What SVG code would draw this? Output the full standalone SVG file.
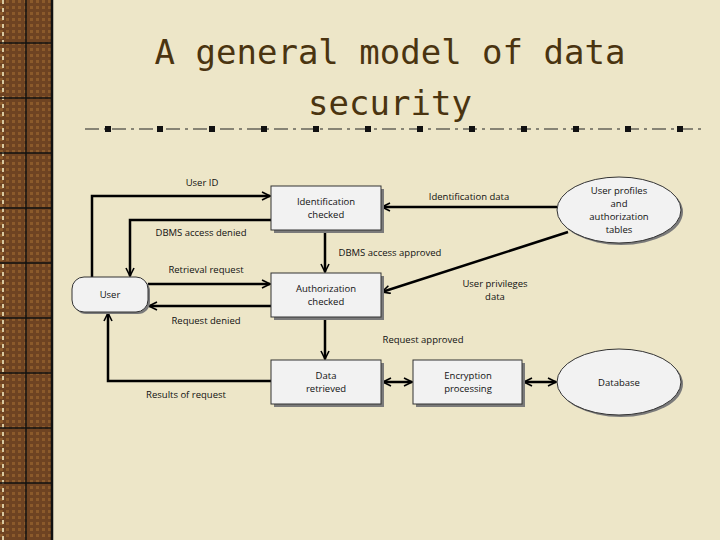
<svg xmlns="http://www.w3.org/2000/svg" width="720" height="540" viewBox="0 0 720 540">
<defs>
<marker id="ah" viewBox="0 0 10 10" refX="9" refY="5" markerWidth="4" markerHeight="4" orient="auto-start-reverse" markerUnits="strokeWidth">
<path d="M1,1 L9,5 L1,9" fill="none" stroke="#000" stroke-width="1.6"/>
</marker>
<pattern id="strip" width="6" height="6" patternUnits="userSpaceOnUse">
<rect width="6" height="6" fill="#6e4322"/>
<rect x="0" y="0" width="3" height="3" fill="#8b5a2b"/>
</pattern>
</defs>
<style>
.bg{fill:#ede6c8}
.box{fill:#f2f2f2;stroke:#333;stroke-width:1}
.sh{fill:#7a7a7a}
.t{font-family:"Open Sans","Lato",sans-serif;font-size:9.5px;fill:#111;text-anchor:middle}
.c{fill:none;stroke:#000;stroke-width:2.5;marker-end:url(#ah)}
.title{font-family:"DejaVu Sans Mono",monospace;font-size:34px;fill:#4a3410;text-anchor:middle}
</style>
<rect class="bg" width="720" height="540"/>
<rect x="0" y="0" width="53" height="540" fill="url(#strip)"/>
<g stroke="#111" stroke-width="1.5" fill="none">
<line x1="52" y1="0" x2="52" y2="540" stroke-width="2.5"/>
<line x1="26" y1="0" x2="26" y2="540"/>
<line x1="3" y1="0" x2="3" y2="540" stroke="#d8c9a0" stroke-dasharray="4,4" stroke-width="2"/>
<line x1="0" y1="43" x2="52" y2="43"/><line x1="0" y1="98" x2="52" y2="98"/>
<line x1="0" y1="153" x2="52" y2="153"/><line x1="0" y1="208" x2="52" y2="208"/>
<line x1="0" y1="263" x2="52" y2="263"/><line x1="0" y1="318" x2="52" y2="318"/>
<line x1="0" y1="373" x2="52" y2="373"/><line x1="0" y1="428" x2="52" y2="428"/>
<line x1="0" y1="483" x2="52" y2="483"/>
</g>
<text class="title" x="390" y="64">A general model of data</text>
<text class="title" x="390" y="115">security</text>
<g>
<line x1="85" y1="129" x2="705" y2="129" stroke="#222" stroke-width="1.2" stroke-dasharray="14,5,3,5"/>
<g fill="#111">
<rect x="105" y="126" width="6" height="6"/><rect x="157" y="126" width="6" height="6"/><rect x="209" y="126" width="6" height="6"/><rect x="261" y="126" width="6" height="6"/><rect x="313" y="126" width="6" height="6"/><rect x="365" y="126" width="6" height="6"/><rect x="417" y="126" width="6" height="6"/><rect x="469" y="126" width="6" height="6"/><rect x="521" y="126" width="6" height="6"/><rect x="573" y="126" width="6" height="6"/><rect x="625" y="126" width="6" height="6"/><rect x="677" y="126" width="6" height="6"/>
</g>
</g>
<g id="connectors">
<polyline class="c" points="92,277 92,196 270,196"/>
<text class="t" x="202" y="186">User ID</text>
<polyline class="c" points="271,220 130,220 130,276"/>
<text class="t" x="201" y="236">DBMS access denied</text>
<line class="c" x1="325" y1="230" x2="325" y2="272"/>
<text class="t" x="390" y="256">DBMS access approved</text>
<line class="c" x1="148" y1="284" x2="270" y2="284"/>
<text class="t" x="206" y="273">Retrieval request</text>
<line class="c" x1="271" y1="306" x2="149" y2="306"/>
<text class="t" x="206" y="324">Request denied</text>
<line class="c" x1="557" y1="207" x2="382" y2="207"/>
<text class="t" x="469" y="200">Identification data</text>
<line class="c" x1="568" y1="232" x2="382" y2="292"/>
<text class="t" x="495" y="287">User privileges</text>
<text class="t" x="495" y="300">data</text>
<line class="c" x1="325" y1="317" x2="325" y2="359"/>
<text class="t" x="423" y="343">Request approved</text>
<polyline class="c" points="271,381 108,381 108,313"/>
<text class="t" x="186" y="398">Results of request</text>
<line class="c" x1="383" y1="382" x2="412" y2="382" style="marker-start:url(#ah)"/>
<line class="c" x1="524" y1="382" x2="556" y2="382" style="marker-start:url(#ah)"/>
</g>
<g id="user">
<rect x="74" y="279" width="76" height="35" rx="12" class="sh"/>
<rect x="72" y="277" width="76" height="35" rx="12" class="box"/>
<text class="t" x="110" y="298">User</text>
</g>
<g id="ident">
<rect x="274" y="189" width="110" height="44" class="sh"/>
<rect x="271" y="186" width="110" height="44" class="box"/>
<text class="t" x="326" y="205">Identification</text>
<text class="t" x="326" y="218">checked</text>
</g>
<g id="auth">
<rect x="274" y="276" width="110" height="44" class="sh"/>
<rect x="271" y="273" width="110" height="44" class="box"/>
<text class="t" x="326" y="292">Authorization</text>
<text class="t" x="326" y="305">checked</text>
</g>
<g id="data">
<rect x="274" y="363" width="110" height="44" class="sh"/>
<rect x="271" y="360" width="110" height="44" class="box"/>
<text class="t" x="326" y="379">Data</text>
<text class="t" x="326" y="392">retrieved</text>
</g>
<g id="enc">
<rect x="416" y="363" width="109" height="44" class="sh"/>
<rect x="413" y="360" width="109" height="44" class="box"/>
<text class="t" x="468" y="379">Encryption</text>
<text class="t" x="468" y="392">processing</text>
</g>
<g id="profiles">
<ellipse cx="621" cy="212" rx="62" ry="33" class="sh"/>
<ellipse cx="619" cy="210" rx="62" ry="33" class="box"/>
<text class="t" x="619" y="194">User profiles</text>
<text class="t" x="619" y="207">and</text>
<text class="t" x="619" y="220">authorization</text>
<text class="t" x="619" y="233">tables</text>
</g>
<g id="db">
<ellipse cx="621" cy="384" rx="62" ry="33" class="sh"/>
<ellipse cx="619" cy="382" rx="62" ry="33" class="box"/>
<text class="t" x="619" y="386">Database</text>
</g>
</svg>
